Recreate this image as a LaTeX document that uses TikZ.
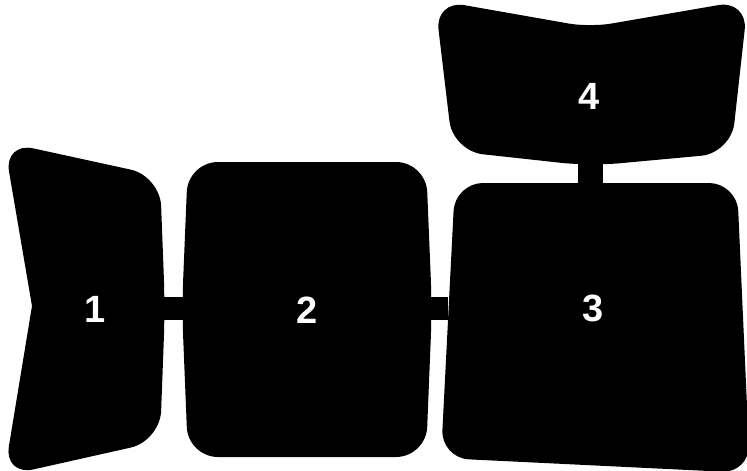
\documentclass[tikz,border=0pt]{standalone}
\usepackage{fontspec}
\setmainfont{Liberation Sans}
\begin{document}
\begin{tikzpicture}[x=1pt,y=-1pt,
  panel/.style={fill=black,rounded corners=#1},
  panel/.default=26pt,
  bar/.style={draw=black,line width=23pt},
  lbl/.style={text=white,font=\bfseries\fontsize{38}{38}\selectfont,inner sep=0pt}]
\useasboundingbox (0,0) rectangle (747,471);
% shape 1
\fill[black] (32,306) [rounded corners=30pt] -- (4,142) -- (160,176) -- (165,308) -- (160,441) -- (4,476) [sharp corners] -- cycle;
% shape 2
\fill[panel=30pt] (188,162) -- (426,162) -- (432,308) -- (426,457) -- (188,457) -- (182,308) -- cycle;
% shape 3
\fill[panel=28pt] (455,183) -- (737,183) -- (750,473) -- (441,458) -- cycle;
% shape 4
\fill[black] (577,25) [rounded corners=30pt] -- (435,0) -- (453,151) -- (590,166) -- (731,153) -- (748,0) [rounded corners=8pt] -- (603,25) -- cycle;
% connection points
\coordinate (c1r) at (163,308);
\coordinate (c2l) at (184,308);
\coordinate (c2r) at (430,308);
\coordinate (c3l) at (448,308);
\coordinate (c3t) at (590.5,186);
\coordinate (c4b) at (590.5,160);
\draw[bar] (c1r) -- (c2l);
\draw[bar] (c2r) -- (c3l);
\draw[bar,line width=25pt] (c3t) -- (c4b);
% labels
\node[lbl] (n1) at (95,309) {1};
\node[lbl] (n2) at (307,310) {2};
\node[lbl] (n3) at (593,308) {3};
\node[lbl] (n4) at (589,96) {4};
\end{tikzpicture}
\end{document}
